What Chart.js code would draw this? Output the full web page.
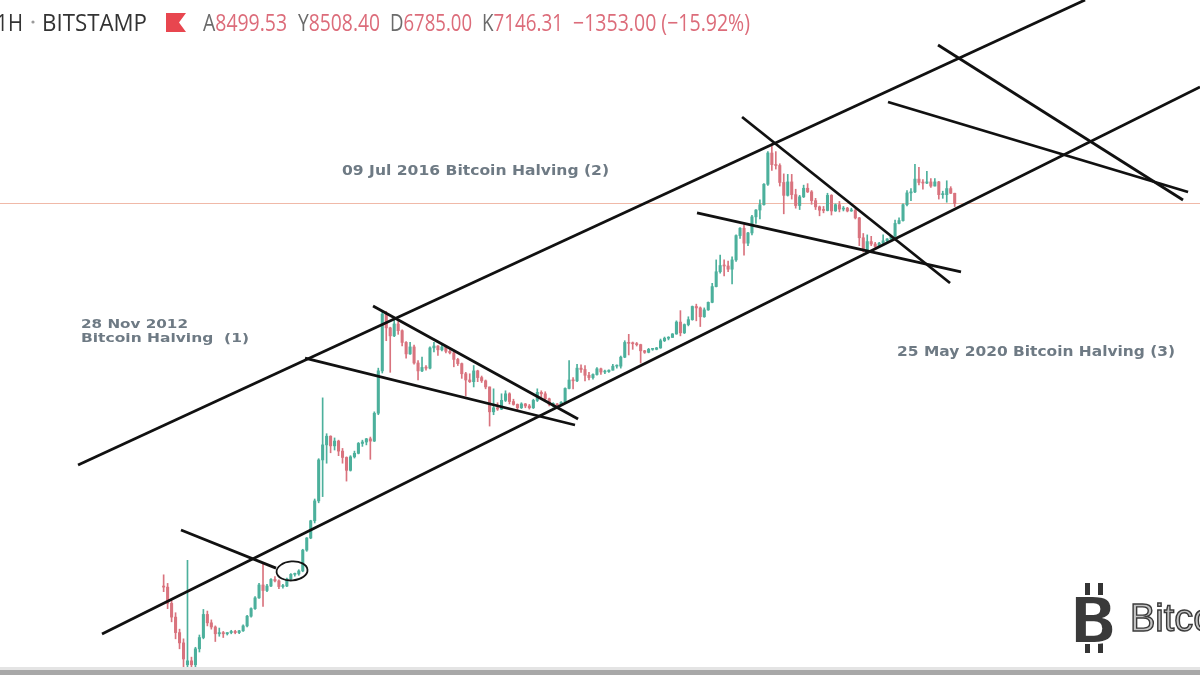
<!DOCTYPE html>
<html lang="en">
  <head>
    <meta charset="UTF-8" />
    <meta name="viewport" content="width=device-width, initial-scale=1.0" />
    <title>BTC/USD 1H · BITSTAMP</title>

    <script src="https://cdnjs.cloudflare.com/ajax/libs/Chart.js/4.4.1/chart.umd.min.js"></script>

    <style>
      body {
        margin: 0;
        background-color: #ffffff;
      }

      .chart-container {
        position: relative;
        width: 1200px;
        height: 675px;
      }
    </style>
  </head>

  <body>
    <div class="chart-container">
      <canvas id="btcChart"></canvas>
    </div>

    <script>
      // ---------------- half-month candles, BTC/USD Bitstamp: [open, high, low, close] ----------------
      // 2011 starts in August (half-month index 14)
      const candles2011 = [
        [11.0, 13.3, 10.0, 10.8], [10.8, 11.5, 7.5, 8.2], [8.2, 8.8, 6.0, 6.5], [6.5, 7.0, 4.5, 5.0],
        [5.0, 5.3, 3.8, 4.2], [4.2, 4.5, 2.6, 3.2], [2.9, 17.0, 2.6, 3.1], [3.1, 3.3, 2.3, 2.9],
        [2.9, 3.9, 2.8, 3.8], [3.8, 4.8, 3.6, 4.6],
      ];
      const candles2012 = [
        [4.6, 7.4, 4.5, 6.8], [6.8, 7.2, 5.6, 5.9], [5.9, 6.2, 5.3, 5.5], [5.5, 5.6, 4.3, 4.9],
        [4.9, 5.4, 4.7, 5.0], [5.0, 5.1, 4.6, 4.9], [4.9, 5.0, 4.8, 5.0], [5.0, 5.2, 4.9, 5.1],
        [5.1, 5.2, 4.9, 5.0], [5.0, 5.2, 4.9, 5.15], [5.15, 5.7, 5.1, 5.6], [5.6, 6.7, 5.5, 6.6],
        [6.6, 7.6, 6.5, 7.5], [7.5, 9.2, 7.4, 9.0], [9.0, 11.5, 8.9, 11.2], [11.2, 16.0, 7.8, 10.2],
        [10.2, 11.3, 10.0, 11.0], [11.0, 12.5, 10.9, 12.3], [12.3, 12.9, 11.8, 12.0], [12.0, 12.2, 10.5, 10.9],
        [10.9, 11.3, 10.6, 11.0], [11.0, 12.6, 10.9, 12.4], [12.4, 13.6, 12.3, 13.4], [13.4, 13.7, 13.0, 13.5],
      ];
      const candles2013 = [
        [13.5, 14.5, 13.2, 14.2], [14.2, 20.5, 14.0, 20.2], [20.2, 25.0, 19.8, 24.8], [24.8, 33.5, 24.5, 33.2],
        [33.2, 48.0, 32.0, 46.5], [46.5, 95.0, 45.0, 93.0], [93.0, 266.0, 50.0, 120.0], [120.0, 145.0, 88.0, 139.0],
        [139.0, 140.0, 105.0, 118.0], [118.0, 135.0, 110.0, 128.0], [128.0, 130.0, 100.0, 108.0], [108.0, 113.0, 88.0, 97.0],
        [97.0, 98.0, 65.0, 78.0], [78.0, 100.0, 77.0, 98.0], [98.0, 108.0, 96.0, 104.0], [104.0, 125.0, 103.0, 123.0],
        [123.0, 130.0, 117.0, 126.0], [126.0, 134.0, 120.0, 133.0], [133.0, 137.0, 94.0, 128.0], [128.0, 210.0, 127.0, 205.0],
        [205.0, 440.0, 200.0, 420.0], [420.0, 1163.0, 405.0, 1100.0], [1100.0, 1150.0, 700.0, 870.0], [870.0, 880.0, 410.0, 760.0],
      ];
      const candles2014 = [
        [760, 1000, 750, 930], [930, 970, 780, 830], [830, 840, 640, 680], [680, 690, 520, 560],
        [560, 680, 555, 630], [630, 650, 470, 480], [480, 500, 360, 420], [420, 530, 415, 445],
        [445, 460, 425, 440], [440, 630, 435, 620], [620, 680, 580, 640], [640, 645, 545, 600],
        [600, 650, 590, 630], [630, 635, 570, 585], [585, 600, 560, 570], [570, 575, 450, 510],
        [510, 520, 460, 475], [475, 480, 370, 400], [400, 410, 275, 360], [360, 400, 345, 350],
        [350, 460, 320, 420], [420, 425, 350, 375], [375, 385, 345, 355], [355, 360, 310, 320],
      ];
      const candles2015 = [
        [320, 320, 165, 210], [210, 310, 200, 225], [225, 245, 215, 220], [220, 285, 218, 255],
        [255, 300, 250, 285], [285, 290, 240, 250], [250, 260, 235, 238], [238, 240, 215, 225],
        [225, 245, 222, 240], [240, 242, 225, 232], [232, 238, 220, 225], [225, 260, 222, 255],
        [255, 310, 250, 292], [292, 300, 270, 285], [285, 295, 255, 262], [262, 265, 232, 238],
        [238, 245, 228, 240], [240, 242, 228, 236], [236, 250, 235, 247], [247, 315, 245, 312],
        [312, 500, 310, 360], [360, 375, 310, 355], [355, 470, 350, 440], [440, 465, 410, 430],
      ];
      const candles2016 = [
        [430, 460, 355, 390], [390, 410, 360, 375], [375, 400, 365, 395], [395, 445, 390, 435],
        [435, 440, 395, 412], [412, 425, 400, 415], [415, 428, 410, 425], [425, 470, 425, 455],
        [455, 465, 440, 455], [455, 540, 440, 530], [530, 700, 525, 680], [680, 780, 550, 670],
        [670, 685, 605, 665], [665, 680, 640, 655], [655, 660, 480, 590], [590, 595, 565, 575],
        [575, 615, 570, 605], [605, 610, 595, 605], [605, 625, 600, 620], [620, 720, 615, 700],
        [700, 745, 690, 730], [730, 750, 710, 740], [740, 790, 740, 785], [785, 980, 780, 960],
      ];
      const candles2017 = [
        [960, 1165, 760, 800], [800, 930, 790, 920], [920, 1050, 900, 1000], [1000, 1260, 990, 1250],
        [1250, 1300, 980, 1220], [1220, 1240, 890, 1050], [1050, 1220, 1040, 1180], [1180, 1350, 1170, 1340],
        [1340, 1850, 1330, 1750], [1750, 2750, 1740, 2250], [2250, 2980, 2200, 2500], [2500, 2750, 2100, 2480],
        [2480, 2700, 2250, 2350], [2350, 2900, 1830, 2750], [2750, 4200, 2680, 4150], [4150, 4750, 3950, 4700],
        [4700, 4980, 2980, 3650], [3650, 4380, 3500, 4340], [4340, 5850, 4200, 5700], [5700, 6450, 5100, 6400],
        [6400, 7600, 5500, 7000], [7000, 10000, 6950, 9900], [9900, 17200, 9700, 16800], [16800, 19666, 12500, 13800],
      ];
      const candles2018 = [
        [13800, 17200, 12800, 13600], [13600, 14000, 9600, 10200], [10200, 11800, 6000, 8200], [8200, 11700, 8100, 10300],
        [10300, 11700, 7700, 8300], [8300, 9100, 6600, 6900], [6900, 8200, 6450, 8000], [8000, 9750, 7900, 9250],
        [9250, 10000, 8600, 8700], [8700, 8900, 7050, 7500], [7500, 7800, 6450, 6750], [6750, 6850, 5800, 6380],
        [6380, 6800, 6100, 6350], [6350, 8500, 6300, 8200], [8200, 8300, 5880, 6300], [6300, 7100, 6250, 7000],
        [7000, 7400, 6200, 6500], [6500, 6800, 6300, 6600], [6600, 6700, 6200, 6300], [6300, 6600, 6250, 6350],
        [6350, 6550, 5500, 5600], [5600, 5650, 3500, 4000], [4000, 4300, 3150, 3250], [3250, 4200, 3200, 3750],
      ];
      const candles2019 = [
        [3750, 4100, 3500, 3600], [3600, 3700, 3400, 3450], [3450, 3700, 3380, 3650], [3650, 4200, 3600, 3800],
        [3800, 3950, 3700, 3920], [3920, 4100, 3850, 4100], [4100, 5400, 4080, 5100], [5100, 5600, 5050, 5350],
        [5350, 7100, 5300, 7000], [7000, 8900, 6850, 8550], [8550, 9200, 7500, 8700], [8700, 13880, 8600, 10800],
        [10800, 13200, 9800, 10200], [10200, 10700, 9100, 10100], [10100, 12300, 10000, 10300], [10300, 10900, 9400, 9600],
        [9600, 10900, 9600, 10300], [10300, 10400, 7700, 8300], [8300, 8800, 7800, 8300], [8300, 10500, 7300, 9200],
        [9200, 9500, 8450, 8499.53], [8499.53, 8508.40, 6785.00, 7146.31],
      ];

      const yearList = [2011, 2012, 2013, 2014, 2015, 2016, 2017, 2018, 2019];
      const firstHalfMonth = [14, 0, 0, 0, 0, 0, 0, 0, 0];
      const yearCandles = [candles2011, candles2012, candles2013, candles2014, candles2015,
        candles2016, candles2017, candles2018, candles2019];

      // ---------------- drawn trend lines: [year, price] pairs ----------------
      const upperChannel = [[2010.707, 85.4], [2021.262, 224000]];
      const lowerChannel = [[2010.958, 4.88], [2022.467, 51370]];
      const wedge2012 = [[2011.786, 28.4], [2012.782, 14.9]];
      const wedge2014Top = [[2013.799, 1260], [2015.948, 186]];
      const wedge2014Base = [[2013.086, 522], [2015.916, 168]];
      const wedge2018Top = [[2017.667, 30920], [2019.847, 1860]];
      const wedge2018Base = [[2017.195, 6085], [2019.962, 2241]];
      const projectionA = [[2019.721, 104600], [2022.289, 7582]];
      const projectionB = [[2019.197, 39850], [2022.342, 8683]];
      const circledZone = [2012.950, 14.2];

      // ---------------- texts ----------------
      const lastBar = candles2019[candles2019.length - 1];
      const ohlcLetters = ["A", "Y", "D", "K"];
      const changeText = "\u22121353.00 (\u221215.92%)";
      const halvingNotes = [
        ["28 Nov 2012", "Bitcoin Halving  (1)"],
        ["09 Jul 2016 Bitcoin Halving (2)"],
        ["25 May 2020 Bitcoin Halving (3)"],
      ];
      const noteAnchors = [[2010.738, 868], [2013.474, 11575], [2019.292, 540]];

      // visible window (year / price)
      const xMin = 2009.889, xMax = 2022.467;
      const yMin = 2.439, yMax = 224030;

      // ---------------- build datasets ----------------
      const candleTimes = [];
      const candleRows = [];
      yearList.forEach((yr, n) => {
        yearCandles[n].forEach((row, k) => {
          candleTimes.push(yr + (firstHalfMonth[n] + k + 0.5) / 24);
          candleRows.push(row);
        });
      });

      const upColor = "#4cb09c";
      const downColor = "#d9737e";
      const candleColors = candleRows.map((r) => (r[3] >= r[0] ? upColor : downColor));

      const wickData = candleRows.map((r, i) => ({ x: candleTimes[i], y: [r[2], r[1]] }));
      const bodyData = candleRows.map((r, i) => ({ x: candleTimes[i], y: [r[0], r[3]] }));

      function trendLine(points) {
        return {
          type: "line",
          data: points.map((p) => ({ x: p[0], y: p[1] })),
          borderColor: "#111111",
          borderWidth: 2.8,
          pointRadius: 0,
          fill: false,
          tension: 0,
          order: 0,
        };
      }

      // fit a string into a given pixel width
      function fitText(ctx, text, left, baseline, width) {
        const w = ctx.measureText(text).width;
        ctx.save();
        ctx.translate(left, baseline);
        ctx.scale(width / w, 1);
        ctx.fillText(text, 0, 0);
        ctx.restore();
      }

      const overlay = {
        id: "overlay",
        afterDatasetsDraw(chart) {
          const ctx = chart.ctx;
          const xs = chart.scales.x;
          const ys = chart.scales.y;

          // circle around the 2012 breakout
          ctx.save();
          ctx.strokeStyle = "#151515";
          ctx.lineWidth = 1.8;
          ctx.beginPath();
          ctx.ellipse(xs.getPixelForValue(circledZone[0]), ys.getPixelForValue(circledZone[1]),
            15.5, 9.5, -0.08, 0, Math.PI * 2);
          ctx.stroke();
          ctx.restore();

          // halving notes
          const noteWidths = [[107, 168], [267], [278]];
          const noteFonts = ["bold 12.8px 'DejaVu Sans'", "bold 13.5px 'DejaVu Sans'", "bold 13.5px 'DejaVu Sans'"];
          ctx.save();
          ctx.fillStyle = "#6e7a84";
          ctx.textBaseline = "alphabetic";
          halvingNotes.forEach((lines, i) => {
            ctx.font = noteFonts[i];
            const px = xs.getPixelForValue(noteAnchors[i][0]);
            const py = ys.getPixelForValue(noteAnchors[i][1]);
            lines.forEach((line, j) => fitText(ctx, line, px, py + j * 13.5, noteWidths[i][j]));
          });
          ctx.restore();

          // header
          ctx.save();
          ctx.textBaseline = "alphabetic";
          ctx.font = "24px 'Open Sans'";
          ctx.fillStyle = "#333333";
          ctx.save();
          ctx.translate(23, 31);
          ctx.scale(0.85, 1);
          ctx.textAlign = "right";
          ctx.fillText("1H", 0, 0);
          ctx.restore();
          ctx.fillStyle = "#9a9a9a";
          ctx.beginPath();
          ctx.arc(33, 22, 1.6, 0, Math.PI * 2);
          ctx.fill();
          ctx.fillStyle = "#333333";
          fitText(ctx, "BITSTAMP", 42, 31, 105);

          ctx.fillStyle = "#e8464f";
          ctx.beginPath();
          ctx.moveTo(166, 13);
          ctx.lineTo(186, 13);
          ctx.lineTo(179, 22.5);
          ctx.lineTo(186, 32);
          ctx.lineTo(166, 32);
          ctx.closePath();
          ctx.fill();

          const groupBoxes = [[203, 84], [298, 82], [390, 82], [482, 81]];
          const values = [lastBar[0], lastBar[1], lastBar[2], lastBar[3]].map((v) => v.toFixed(2));
          groupBoxes.forEach((box, i) => {
            const letter = ohlcLetters[i];
            const full = ctx.measureText(letter + values[i]).width;
            const s = box[1] / full;
            ctx.save();
            ctx.translate(box[0], 31);
            ctx.scale(s, 1);
            ctx.fillStyle = "#6b6b6b";
            ctx.fillText(letter, 0, 0);
            ctx.fillStyle = "#dc6c7a";
            ctx.fillText(values[i], ctx.measureText(letter).width, 0);
            ctx.restore();
          });
          ctx.fillStyle = "#dc6c7a";
          fitText(ctx, changeText, 573, 31, 177);
          ctx.restore();

          // watermark logo
          ctx.save();
          ctx.fillStyle = "#343434";
          ctx.fillRect(1085, 583, 5, 12);
          ctx.fillRect(1098, 583, 5, 12);
          ctx.fillRect(1085, 640, 5, 13);
          ctx.fillRect(1098, 640, 5, 13);
          ctx.font = "bold 64px 'DejaVu Sans'";
          ctx.textBaseline = "alphabetic";
          ctx.fillStyle = "#3a3a3a";
          ctx.fillText("B", 1069, 643);
          ctx.strokeStyle = "#ffffff";
          ctx.lineWidth = 2;
          ctx.strokeText("B", 1069, 643);
          ctx.font = "38px 'Liberation Sans'";
          ctx.fillStyle = "#c4c4c4";
          ctx.strokeStyle = "#3a3a3a";
          ctx.lineWidth = 1.4;
          ctx.fillText("Bitcoin", 1130, 631);
          ctx.strokeText("Bitcoin", 1130, 631);
          ctx.restore();

          // bottom strip of the screenshot
          ctx.save();
          ctx.fillStyle = "#e4e4e4";
          ctx.fillRect(0, 667, 1200, 3);
          ctx.fillStyle = "#a8a8a8";
          ctx.fillRect(0, 670, 1200, 5);
          ctx.restore();
        },
      };

      const ctx = document.getElementById("btcChart").getContext("2d");
      const btcChart = new Chart(ctx, {
        type: "bar",
        data: {
          datasets: [
            trendLine(upperChannel),
            trendLine(lowerChannel),
            trendLine(wedge2012),
            trendLine(wedge2014Top),
            trendLine(wedge2014Base),
            trendLine(wedge2018Top),
            trendLine(wedge2018Base),
            trendLine(projectionA),
            trendLine(projectionB),
            {
              type: "bar",
              data: bodyData,
              backgroundColor: candleColors,
              barThickness: 2.4,
              minBarLength: 1,
              grouped: false,
              borderWidth: 0,
              order: 1,
            },
            {
              type: "bar",
              data: wickData,
              backgroundColor: candleColors,
              barThickness: 1,
              grouped: false,
              borderWidth: 0,
              order: 2,
            },
            {
              type: "line",
              data: [{ x: xMin, y: lastBar[3] }, { x: xMax, y: lastBar[3] }],
              borderColor: "#f0b9a8",
              borderWidth: 1.2,
              pointRadius: 0,
              fill: false,
              order: 3,
            },
          ],
        },
        options: {
          responsive: true,
          maintainAspectRatio: false,
          animation: false,
          layout: { padding: 0 },
          scales: {
            x: { type: "linear", min: xMin, max: xMax, offset: false, display: false },
            y: { type: "logarithmic", min: yMin, max: yMax, display: false },
          },
          plugins: {
            legend: { display: false },
            tooltip: { enabled: false },
          },
        },
        plugins: [overlay],
      });
    </script>
  </body>
</html>
